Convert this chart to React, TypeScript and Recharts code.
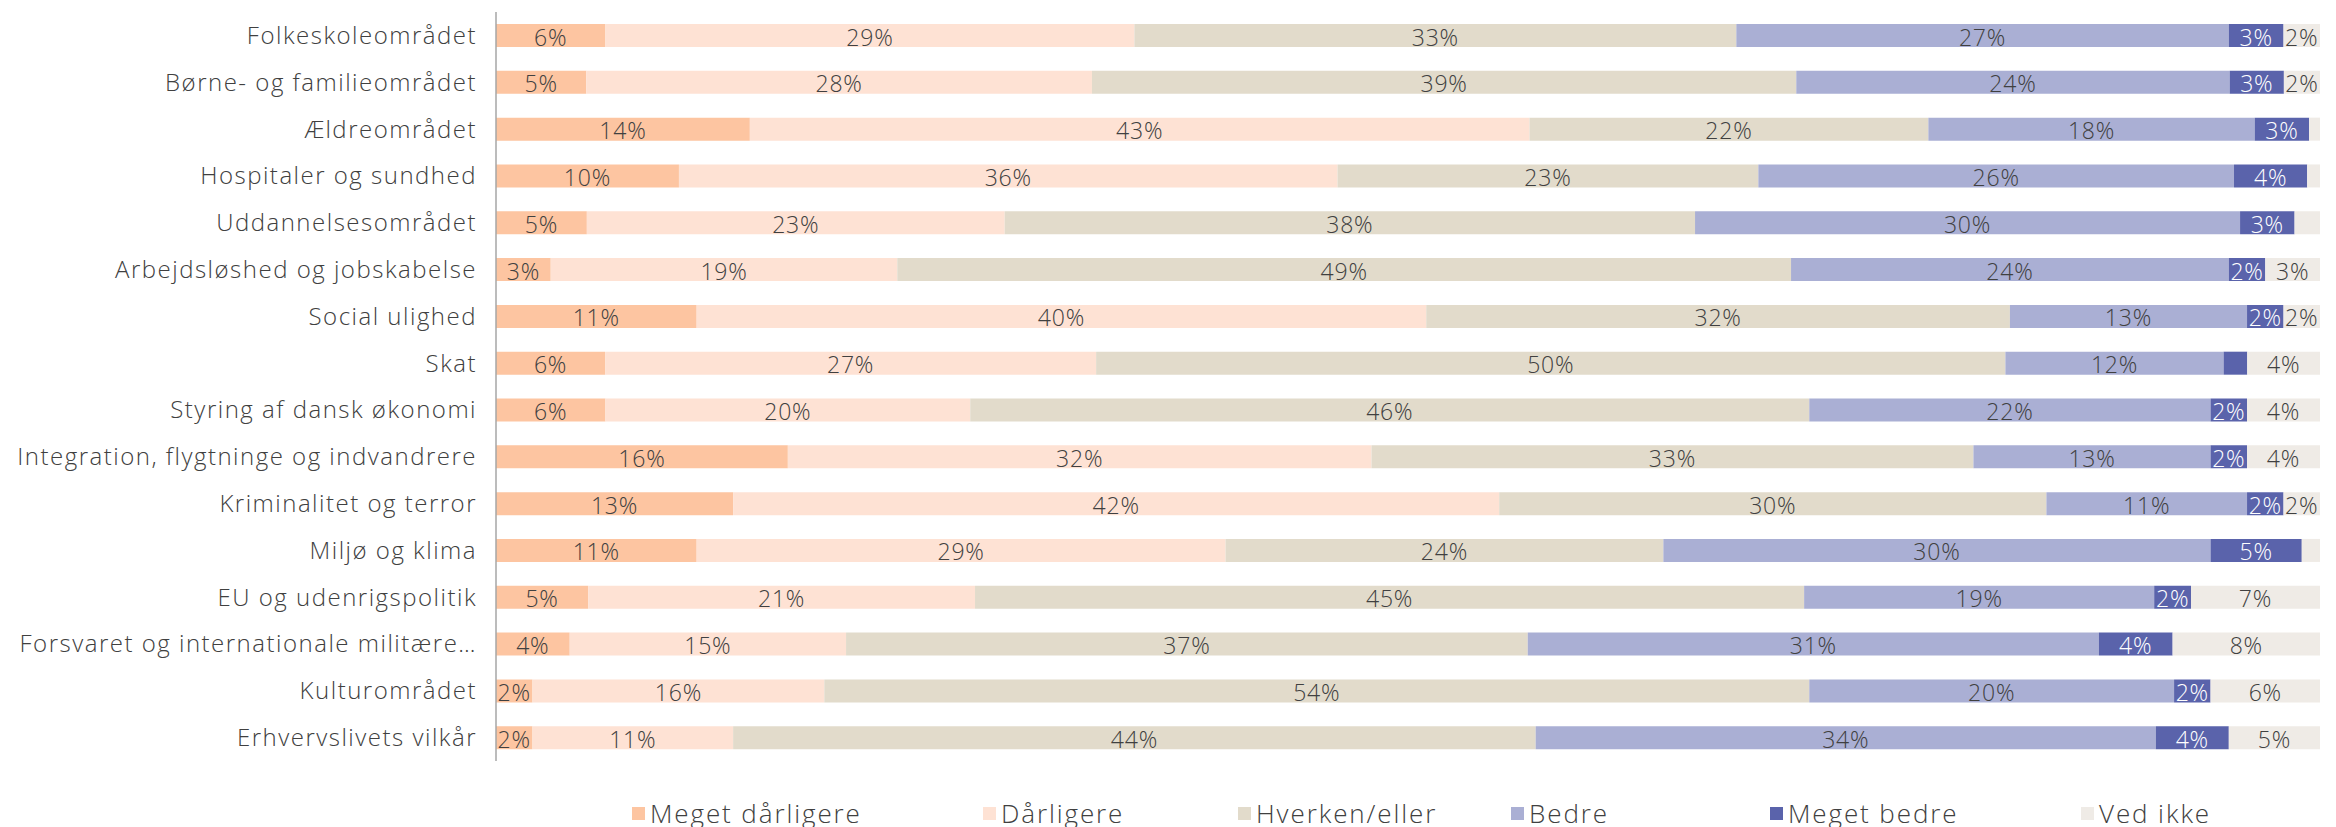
import React from 'react';
import { BarChart, Bar, XAxis, YAxis, Legend, LabelList } from 'recharts';

const categories = [
  'Folkeskoleområdet',
  'Børne- og familieområdet',
  'Ældreområdet',
  'Hospitaler og sundhed',
  'Uddannelsesområdet',
  'Arbejdsløshed og jobskabelse',
  'Social ulighed',
  'Skat',
  'Styring af dansk økonomi',
  'Integration, flygtninge og indvandrere',
  'Kriminalitet og terror',
  'Miljø og klima',
  'EU og udenrigspolitik',
  'Forsvaret og internationale militære…',
  'Kulturområdet',
  'Erhvervslivets vilkår',
];

const megetDarligere = [6, 5, 14, 10, 5, 3, 11, 6, 6, 16, 13, 11, 5, 4, 2, 2];
const darligere = [29, 28, 43, 36, 23, 19, 40, 27, 20, 32, 42, 29, 21, 15, 16, 11];
const hverken = [33, 39, 22, 23, 38, 49, 32, 50, 46, 33, 30, 24, 45, 37, 54, 44];
const bedre = [27, 24, 18, 26, 30, 24, 13, 12, 22, 13, 11, 30, 19, 31, 20, 34];
const megetBedre = [3, 3, 3, 4, 3, 2, 2, 1.3, 2, 2, 2, 5, 2, 4, 2, 4];
const vedIkke = [2, 2, 0.6, 0.7, 1.4, 3, 2, 4, 4, 4, 2, 1, 7, 8, 6, 5];

const series = [
  { key: 'megetDarligere', name: 'Meget dårligere', values: megetDarligere, color: '#FDC5A1', text: '#404040' },
  { key: 'darligere', name: 'Dårligere', values: darligere, color: '#FEE2D4', text: '#404040' },
  { key: 'hverken', name: 'Hverken/eller', values: hverken, color: '#E2DBCB', text: '#404040' },
  { key: 'bedre', name: 'Bedre', values: bedre, color: '#AAAFD4', text: '#404040' },
  { key: 'megetBedre', name: 'Meget bedre', values: megetBedre, color: '#5A63AB', text: '#FFFFFF' },
  { key: 'vedIkke', name: 'Ved ikke', values: vedIkke, color: '#EFEBE6', text: '#404040' },
];

const data = categories.map((name, i) => {
  const row: Record<string, string | number> = { name };
  series.forEach((s) => {
    row[s.key] = s.values[i];
  });
  return row;
});

const FONT = '"Open Sans", Lato, sans-serif';
const legendLeft = [624, 975, 1230, 1503, 1762, 2073];

const makeLabel = (fill: string) => (props: any) => {
  const { x, y, width, height, value } = props;
  if (value == null || value < 1.5) return null;
  return (
    <text
      x={Number(x) + Number(width) / 2}
      y={Number(y) + Number(height) / 2 + 1}
      textAnchor="middle"
      dominantBaseline="central"
      fill={fill}
      fontSize={23}
      fontFamily={FONT}
      fontWeight={300}
      letterSpacing={0.8}
    >
      {`${Math.round(value)}%`}
    </text>
  );
};

const renderLegend = () => (
  <div style={{ position: 'relative', height: 66, fontFamily: FONT }}>
    {series.map((s, i) => (
      <div
        key={s.key}
        style={{
          position: 'absolute',
          left: legendLeft[i],
          top: 37,
          display: 'flex',
          alignItems: 'center',
          whiteSpace: 'nowrap',
        }}
      >
        <span style={{ width: 13, height: 13, background: s.color, marginRight: 5, display: 'inline-block' }} />
        <span style={{ fontSize: 26, color: '#404040', fontWeight: 300, lineHeight: '30px', letterSpacing: 1.9 }}>
          {s.name}
        </span>
      </div>
    ))}
  </div>
);

export default function App() {
  return (
    <div style={{ fontFamily: FONT }}>
      <BarChart
        width={2320}
        height={819}
        data={data}
        layout="vertical"
        stackOffset="expand"
        barSize={23}
        barCategoryGap={0}
        margin={{ top: 4, right: 8, bottom: 0, left: 0 }}
      >
        <XAxis type="number" hide domain={[0, 1]} />
        <YAxis
          type="category"
          dataKey="name"
          width={488}
          tickLine={false}
          tickSize={0}
          tickMargin={19}
          axisLine={{ stroke: '#A6A6A6', strokeWidth: 1.5 }}
          tick={{ fill: '#404040', fontSize: 24, fontFamily: FONT, fontWeight: 300, letterSpacing: 1.5 }}
          interval={0}
        />
        <Legend verticalAlign="bottom" height={66} content={renderLegend} />
        {series.map((s) => (
          <Bar key={s.key} dataKey={s.key} name={s.name} stackId="a" fill={s.color} isAnimationActive={false}>
            <LabelList dataKey={s.key} content={makeLabel(s.text)} />
          </Bar>
        ))}
      </BarChart>
    </div>
  );
}
